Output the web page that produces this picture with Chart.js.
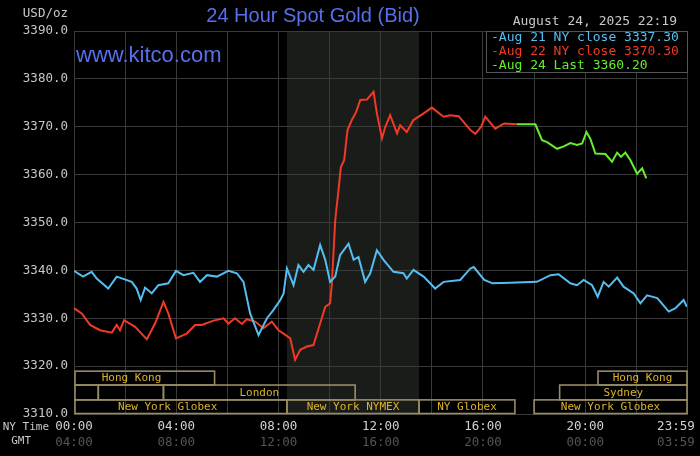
<!DOCTYPE html>
<html>
<head>
<meta charset="utf-8">
<script src="https://cdn.jsdelivr.net/npm/chart.js@4.4.1/dist/chart.umd.min.js"></script>
<style>
html, body { margin: 0; padding: 0; background: #000; }
#wrap { width: 700px; height: 456px; }
</style>
</head>
<body>
<div id="wrap"><canvas id="gold" width="700" height="456"></canvas></div>
<script>
// Hours after midnight (NY time) and bid price
const aug21Hours = [0, 0.35, 0.69, 0.89, 1.34, 1.67, 2.26, 2.45, 2.61, 2.78, 3.04, 3.30, 3.69, 3.99, 4.28,
    4.67, 4.93, 5.20, 5.59, 6.04, 6.37, 6.63, 6.89, 7.22, 7.55, 7.80, 8.07, 8.20, 8.33, 8.59,
    8.78, 8.98, 9.17, 9.37, 9.63, 9.83, 10.02, 10.22, 10.41, 10.74, 10.94, 11.13, 11.39, 11.59, 11.85,
    12.11, 12.50, 12.89, 13.02, 13.28, 13.68, 14.13, 14.46, 15.11, 15.51, 15.64, 16.05, 16.37, 17.07, 18.11,
    18.64, 18.96, 19.42, 19.68, 19.94, 20.27, 20.49, 20.72, 20.92, 21.25, 21.50, 21.90, 22.16, 22.42, 22.82,
    23.27, 23.53, 23.85, 23.98];
const aug21Bid = [3339.9, 3338.7, 3339.7, 3338.3, 3336.2, 3338.7, 3337.6, 3336.2, 3333.8, 3336.4, 3335.2, 3336.9, 3337.3, 3339.9, 3339.0,
    3339.5, 3337.6, 3339.0, 3338.7, 3339.9, 3339.4, 3337.6, 3331.0, 3326.5, 3330.0, 3331.7, 3333.8, 3335.2, 3340.4, 3336.9,
    3341.1, 3339.7, 3341.1, 3340.1, 3345.3, 3342.2, 3337.6, 3338.7, 3343.2, 3345.6, 3342.2, 3342.8, 3337.6, 3339.4, 3344.2,
    3342.2, 3339.7, 3339.4, 3338.3, 3340.1, 3338.7, 3336.2, 3337.6, 3338.0, 3340.4, 3340.7, 3338.0, 3337.3, 3337.4, 3337.6,
    3339.0, 3339.2, 3337.3, 3336.9, 3338.0, 3336.9, 3334.5, 3337.6, 3336.6, 3338.5, 3336.6, 3335.2, 3333.1, 3334.8, 3334.2,
    3331.4, 3332.1, 3333.8, 3332.4];

const aug22Hours = [0, 0.30, 0.63, 1.02, 1.48, 1.67, 1.80, 1.96, 2.39, 2.85, 3.17, 3.50, 3.69, 3.99, 4.41,
    4.74, 5.00, 5.46, 5.85, 6.04, 6.30, 6.57, 6.76, 7.09, 7.41, 7.74, 8.00, 8.20, 8.46, 8.65,
    8.85, 9.11, 9.37, 9.63, 9.83, 10.02, 10.09, 10.22, 10.35, 10.44, 10.57, 10.70, 10.87, 11.04, 11.20,
    11.46, 11.72, 11.85, 12.05, 12.18, 12.37, 12.64, 12.76, 13.02, 13.28, 13.68, 14.00, 14.46, 14.72, 15.05,
    15.51, 15.70, 15.93, 16.09, 16.48, 16.83, 17.33];
const aug22Bid = [3332.1, 3331.0, 3328.6, 3327.5, 3327.0, 3328.6, 3327.5, 3329.6, 3328.2, 3325.6, 3328.9, 3333.4, 3331.0, 3325.8, 3326.8,
    3328.6, 3328.6, 3329.5, 3330.0, 3328.9, 3330.0, 3328.8, 3329.8, 3329.3, 3327.9, 3329.3, 3327.5, 3326.8, 3325.8, 3321.3,
    3323.4, 3324.1, 3324.4, 3328.9, 3332.4, 3333.1, 3337.3, 3350.5, 3356.8, 3361.6, 3363.0, 3369.3, 3371.4, 3373.1, 3375.6,
    3375.7, 3377.3, 3372.8, 3367.6, 3370.0, 3372.4, 3368.6, 3370.3, 3368.9, 3371.4, 3372.8, 3374.0, 3372.1, 3372.4, 3372.2,
    3369.3, 3368.5, 3370.0, 3372.1, 3369.6, 3370.7, 3370.5];

const aug24Hours = [17.33, 18.05, 18.31, 18.51, 18.90, 19.16, 19.42, 19.68, 19.88, 20.05, 20.20,
    20.40, 20.79, 21.05, 21.25, 21.40, 21.57, 21.77, 22.03, 22.23, 22.39];
const aug24Bid = [3370.5, 3370.5, 3367.2, 3366.8, 3365.4, 3365.9, 3366.6, 3366.2, 3366.5, 3368.9, 3367.5,
    3364.4, 3364.3, 3362.7, 3364.6, 3363.7, 3364.6, 3363.0, 3360.2, 3361.3, 3359.2];

const legendText = ["Aug 21 NY close 3337.30", "Aug 22 NY close 3370.30", "Aug 24 Last 3360.20"];

// Trading sessions (hours, NY time); row 0 = top strip
const sessionNames = ["Hong Kong", "", "", "London", "New York Globex", "New York NYMEX", "NY Globex", "Hong Kong", "Sydney", "New York Globex"];
const sessionStart = [-1, -1, 0.95, 3.5, -1, 8.33, 13.5, 20.5, 19, 18];
const sessionEnd = [5.5, 0.95, 3.5, 11, 8.33, 13.5, 17.25, 24, 24, 24];
const sessionRow = [0, 1, 1, 1, 2, 2, 2, 0, 1, 2];
const nymexHours = [8.33, 13.5];

const hourTicks = [0, 2, 4, 6, 8, 10, 12, 14, 16, 18, 20, 22, 23.55, 23.983];
const lastLabelAt = 23.55;
const yTicks = [3310, 3320, 3330, 3340, 3350, 3360, 3370, 3380, 3390];

const MONO = "DejaVu Sans Mono";
const GRID = "#3a3a3a";
const colors = ["#55bef0", "#f03a26", "#66ee2c"];

function clock(h) {
    const mins = Math.round(h * 60);
    return String(Math.floor(mins / 60) % 24).padStart(2, "0") + ":" + String(mins % 60).padStart(2, "0");
}

function tickLabel(v, shift) {
    if (v === lastLabelAt) return clock(23.983 + shift);
    if (v % 4 === 0) return clock(v + shift);
    return "";
}

function toPoints(hours, bids) {
    return hours.map((h, i) => ({ x: h, y: bids[i] }));
}

function label(ctx, str, x, y, color, font, align) {
    ctx.fillStyle = color;
    ctx.font = font;
    ctx.textAlign = align || "left";
    ctx.textBaseline = "middle";
    ctx.fillText(str, x, y);
}

const decorations = {
    id: "decorations",
    beforeDraw(chart) {
        const { ctx, chartArea: a, scales: { x } } = chart;
        ctx.save();
        ctx.fillStyle = "#000";
        ctx.fillRect(0, 0, chart.width, chart.height);
        // NYMEX open hours
        const x0 = x.getPixelForValue(nymexHours[0]);
        const x1 = x.getPixelForValue(nymexHours[1]);
        ctx.fillStyle = "#1a1c1a";
        ctx.fillRect(x0, a.top, x1 - x0, a.bottom - a.top);
        ctx.restore();
    },
    afterDatasetsDraw(chart) {
        const { ctx, chartArea: a, scales: { x, y } } = chart;
        const bands = [[3316.05, 3318.95], [3312.95, 3316.05], [3310.1, 3312.95]];
        ctx.save();
        ctx.strokeStyle = "#978d62";
        ctx.lineWidth = 1.6;
        sessionNames.forEach((name, i) => {
            const band = bands[sessionRow[i]];
            const left = Math.max(x.getPixelForValue(sessionStart[i]), a.left + 1);
            const right = Math.min(x.getPixelForValue(sessionEnd[i]), a.right);
            const top = y.getPixelForValue(band[1]);
            const bottom = y.getPixelForValue(band[0]);
            ctx.strokeRect(left, top, right - left, bottom - top);
            if (name) {
                const mid = (x.getPixelForValue(sessionStart[i]) + Math.min(x.getPixelForValue(sessionEnd[i]), a.right)) / 2;
                label(ctx, name, mid, (top + bottom) / 2 + 0.5, "#dcb42a", "11px " + MONO, "center");
            }
        });
        ctx.restore();
    },
    afterDraw(chart) {
        const { ctx, chartArea: a } = chart;
        ctx.save();
        label(ctx, "24 Hour Spot Gold (Bid)", 313, 16, "#5670ec", "20px 'Liberation Sans'", "center");
        ctx.textBaseline = "alphabetic";
        ctx.font = "22px 'Liberation Sans'";
        ctx.fillStyle = "#5670ec";
        ctx.textAlign = "left";
        ctx.fillText("www.kitco.com", 76, 62);
        label(ctx, "USD/oz", 68, 14, "#c8c8c8", "12.5px " + MONO, "right");
        label(ctx, "August 24, 2025 22:19", 677, 22, "#c8c8c8", "13px " + MONO, "right");
        label(ctx, "NY Time", 49, 427, "#c8c8c8", "11px " + MONO, "right");
        label(ctx, "GMT", 31, 441, "#c8c8c8", "11px " + MONO, "right");
        // legend box
        ctx.fillStyle = "#000";
        ctx.fillRect(486, a.top, a.right - 486, 41);
        ctx.strokeStyle = "#555";
        ctx.lineWidth = 1;
        ctx.strokeRect(486.5, a.top + 0.5, a.right - 486, 41);
        legendText.forEach((t, i) => {
            label(ctx, "-" + t, 491, 38 + i * 14, colors[i], "13px " + MONO);
        });
        ctx.restore();
    }
};

new Chart(document.getElementById("gold"), {
    type: "line",
    data: {
        datasets: [
            { label: legendText[0], data: toPoints(aug21Hours, aug21Bid), borderColor: colors[0] },
            { label: legendText[1], data: toPoints(aug22Hours, aug22Bid), borderColor: colors[1] },
            { label: legendText[2], data: toPoints(aug24Hours, aug24Bid), borderColor: colors[2] },
        ],
    },
    options: {
        responsive: false,
        animation: false,
        events: [],
        elements: {
            line: { borderWidth: 2, tension: 0 },
            point: { radius: 0 },
        },
        layout: { padding: { top: 31, right: 13, bottom: 4, left: 0 } },
        plugins: { legend: { display: false }, tooltip: { enabled: false } },
        scales: {
            x: {
                type: "linear",
                min: 0,
                max: 23.983,
                weight: 0,
                afterBuildTicks: (s) => { s.ticks = hourTicks.map((v) => ({ value: v })); },
                afterFit: (s) => { s.height = 21; },
                grid: {
                    color: (c) => (c.tick && c.tick.value === lastLabelAt ? "rgba(0,0,0,0)" : GRID),
                    drawTicks: false,
                },
                border: { color: GRID },
                ticks: {
                    autoSkip: false,
                    maxRotation: 0,
                    padding: 5,
                    color: "#d2d2d2",
                    font: { family: MONO, size: 12.5 },
                    callback: (v) => tickLabel(v, 0),
                },
            },
            x2: {
                type: "linear",
                position: "bottom",
                min: 0,
                max: 23.983,
                weight: 1,
                afterBuildTicks: (s) => { s.ticks = hourTicks.map((v) => ({ value: v })); },
                afterFit: (s) => { s.height = 17; },
                grid: { display: false, drawTicks: false },
                border: { display: false },
                ticks: {
                    autoSkip: false,
                    maxRotation: 0,
                    padding: 0,
                    color: "#555",
                    font: { family: MONO, size: 12.5 },
                    callback: (v) => tickLabel(v, 4),
                },
            },
            y: {
                min: 3310,
                max: 3390,
                afterBuildTicks: (s) => { s.ticks = yTicks.map((v) => ({ value: v })); },
                afterFit: (s) => { s.width = 74; },
                grid: { color: GRID, drawTicks: false },
                border: { color: GRID },
                ticks: {
                    padding: 6,
                    color: "#c8c8c8",
                    font: { family: MONO, size: 12.5 },
                    callback: (v) => v.toFixed(1),
                },
            },
        },
    },
    plugins: [decorations],
});
</script>
</body>
</html>
